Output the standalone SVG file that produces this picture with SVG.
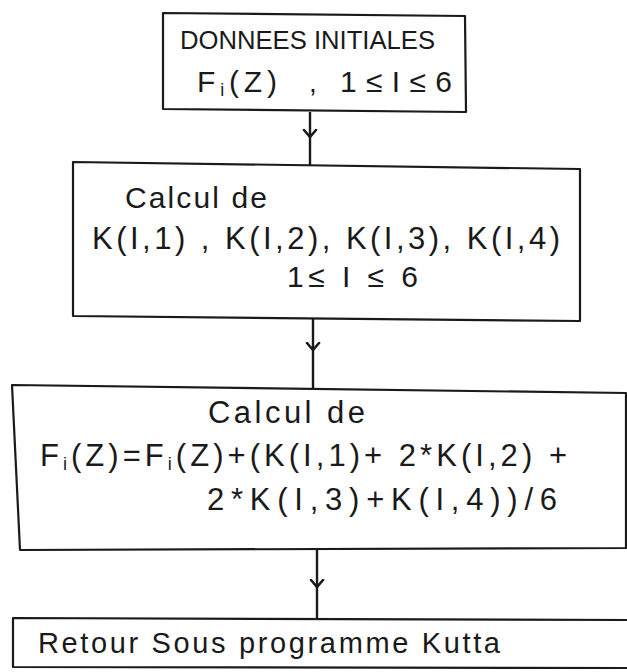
<svg xmlns="http://www.w3.org/2000/svg" width="627" height="672" viewBox="0 0 627 672">
<style>
.box{fill:none;stroke:#1a1a1a;stroke-width:2.2;stroke-linejoin:round}
.t{font-family:"Liberation Sans","DejaVu Sans",sans-serif;fill:#1a1a1a}
.sub{font-size:18px}
.conn{fill:none;stroke:#1a1a1a;stroke-width:2.4}
</style>
<defs>
<marker id="vee" markerWidth="16" markerHeight="16" refX="8" refY="8" orient="auto" markerUnits="userSpaceOnUse">
<path d="M1,2 L8,8 L1,14" fill="none" stroke="#1a1a1a" stroke-width="2.6" stroke-linecap="round"/>
</marker>
</defs>
<rect width="627" height="672" fill="#ffffff"/>

<g id="node1">
<path class="box" d="M163,13 L465,16 L466,112 L163,109 Z"/>
<text class="t" x="180" y="49" textLength="255" lengthAdjust="spacingAndGlyphs" style="font-size:26px">DONNEES INITIALES</text>
<text class="t" x="197" y="92" textLength="80" lengthAdjust="spacing" style="font-size:30px">F<tspan class="sub" dy="4">i</tspan><tspan dy="-4">(Z)</tspan></text>
<text class="t" x="309" y="92" style="font-size:28px">,</text>
<text class="t" x="340" y="92" textLength="112" lengthAdjust="spacing" style="font-size:30px">1≤I≤6</text>
</g>

<g id="node2">
<path class="box" d="M73,162 L580,169 L580,321 L73,316 Z"/>
<text class="t" x="125" y="208" textLength="142" lengthAdjust="spacing" style="font-size:30px">Calcul de</text>
<text class="t" x="92" y="249" textLength="468" lengthAdjust="spacing" style="font-size:31px">K(I,1) , K(I,2), K(I,3), K(I,4)</text>
<text class="t" x="287" y="287" textLength="131" lengthAdjust="spacing" style="font-size:30px">1≤ I ≤ 6</text>
</g>

<g id="node3">
<path class="box" d="M12,385 L626,393 L626,548 L20,550 Z"/>
<text class="t" x="208" y="423" textLength="157" lengthAdjust="spacing" style="font-size:31px">Calcul de</text>
<text class="t" x="40" y="466" textLength="527" lengthAdjust="spacing" style="font-size:31px">F<tspan class="sub" dy="4">i</tspan><tspan dy="-4">(Z)=F</tspan><tspan class="sub" dy="4">i</tspan><tspan dy="-4">(Z)+(K(I,1)+ 2*K(I,2) +</tspan></text>
<text class="t" x="207" y="510" textLength="350" lengthAdjust="spacing" style="font-size:31px">2*K(I,3)+K(I,4))/6</text>
</g>

<g id="node4">
<path class="box" d="M627,620 L13,618 L13,667 L627,668"/>
<text class="t" x="38" y="653" textLength="462" lengthAdjust="spacing" style="font-size:29px">Retour Sous programme Kutta</text>
</g>

<g id="connectors">
<path class="conn" d="M310,112 L310,137 L310,165" marker-mid="url(#vee)"/>
<path class="conn" d="M313,318 L313,350 L313,390" marker-mid="url(#vee)"/>
<path class="conn" d="M317,549 L317,587 L317,618" marker-mid="url(#vee)"/>
</g>
</svg>
